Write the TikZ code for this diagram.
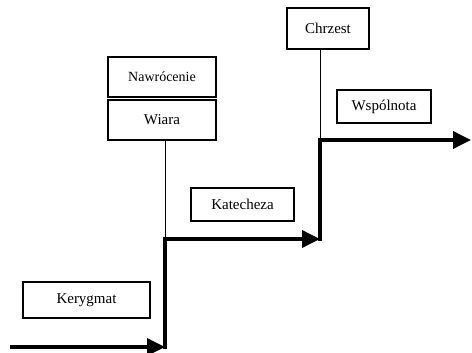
\documentclass[tikz,border=0pt]{standalone}
\usepackage{fontspec}
\setmainfont{Liberation Serif}
\usetikzlibrary{arrows.meta}
\begin{document}
\begin{tikzpicture}[x=1pt,y=-1pt,
  stage/.style={draw,line width=1.1pt,inner sep=0pt,font=\fontsize{15}{18}\selectfont},
  stair/.style={line width=3.6pt,line cap=rect},
  stairarrow/.style={line width=3.6pt,-{Triangle[length=18pt,width=17pt]}},
  tie/.style={line width=0.9pt}]
\useasboundingbox (0,0) rectangle (472,353);
% stages
\node[stage,minimum width=127pt,minimum height=36pt] (kerygmat) at (86.5,300) {Kerygmat};
\node[stage,minimum width=108pt,minimum height=40pt,font=\fontsize{14}{17}\selectfont] (nawrocenie) at (162,77) {Nawrócenie};
\node[stage,minimum width=108pt,minimum height=40pt] (wiara) at (162,120) {Wiara};
\node[stage,minimum width=103pt,minimum height=33pt] (katecheza) at (242.5,204.5) {Katecheza};
\node[stage,minimum width=82pt,minimum height=41pt] (chrzest) at (328,28.5) {Chrzest};
\node[stage,minimum width=94pt,minimum height=33pt] (wspolnota) at (384,106.5) {Wspólnota};
% stairs
\coordinate (s0) at (10,347);
\coordinate (s1) at (165,347);
\coordinate (s2) at (165,239);
\coordinate (s3) at (320,239);
\coordinate (s4) at (320,140);
\coordinate (s5) at (471,140);
\draw[stairarrow] (s0) -- (s1);
\draw[stair] (s1) -- (s2);
\draw[stairarrow] (s2) -- (s3);
\draw[stair] (s3) -- (s4);
\draw[stairarrow] (s4) -- (s5);
% ties
\draw[tie] (wiara.south -| s2) -- (s2);
\draw[tie] (chrzest.south -| s4) -- (s4);
\end{tikzpicture}
\end{document}
